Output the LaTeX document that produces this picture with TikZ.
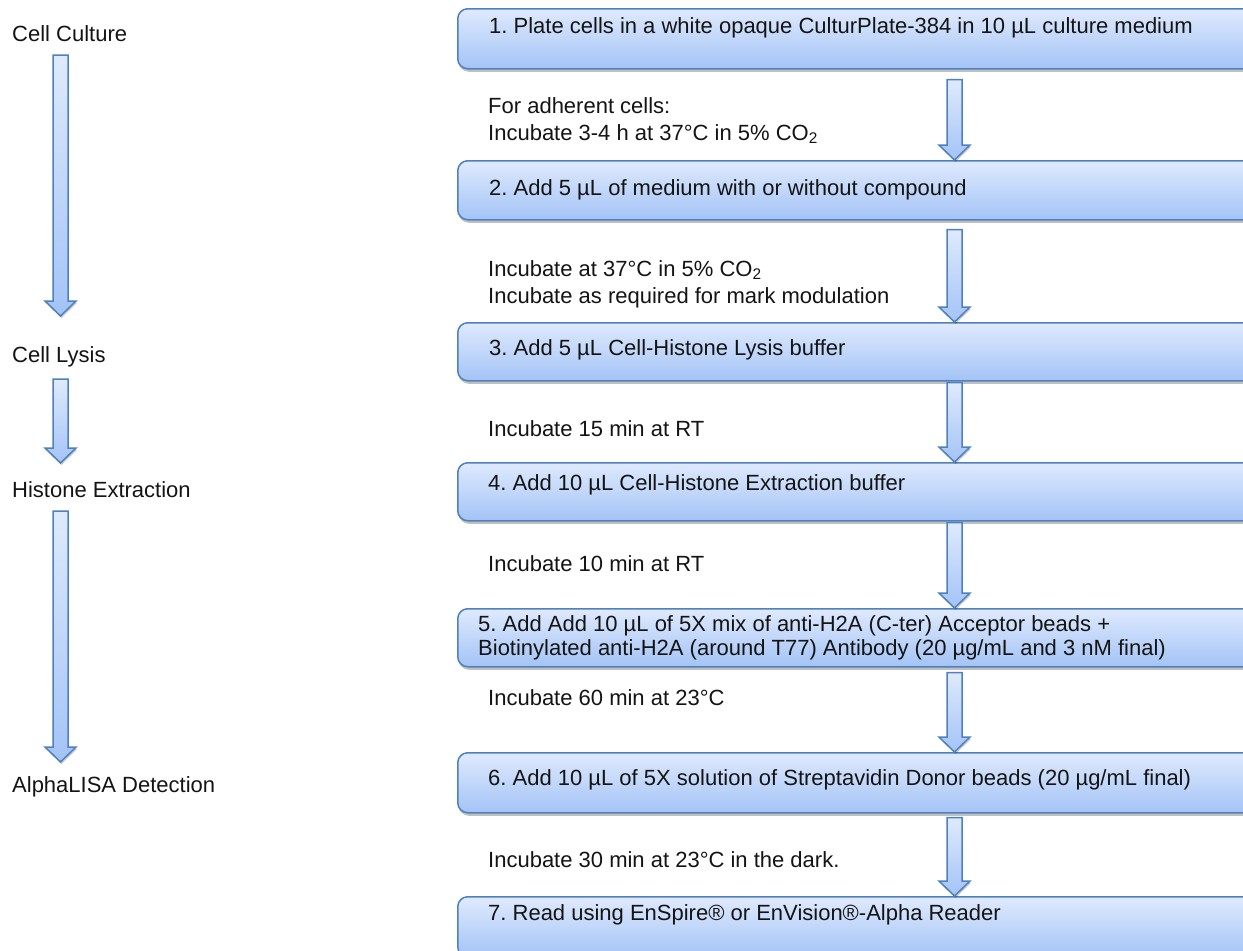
\documentclass[tikz,border=0pt]{standalone}
\usepackage{fontspec}
\setmainfont{Liberation Sans}
\usetikzlibrary{shadows,calc}
\frenchspacing
\definecolor{boxtop}{RGB}{223,234,253}
\definecolor{boxbot}{RGB}{163,195,246}
\definecolor{edgeblue}{RGB}{79,129,189}
\definecolor{ink}{RGB}{20,20,20}
\newcommand\blockarrow[2]{%
  \path[flowarrow] let \p1=(#1), \p2=(#2) in
    (\x1-7.5pt,\y1) -- (\x1+7.5pt,\y1) -- (\x1+7.5pt,\y2+15pt) -- (\x1+15.5pt,\y2+15pt)
    -- (\x1,\y2) -- (\x1-15.5pt,\y2+15pt) -- (\x1-7.5pt,\y2+15pt) -- cycle;}
\tikzset{
  stepbox/.style={draw=edgeblue, line width=1.5pt, rounded corners=10pt,
    top color=boxtop, bottom color=boxbot,
    drop shadow={shadow xshift=1pt, shadow yshift=-3pt, opacity=0.25, fill=black},
    minimum width=800pt, inner sep=0pt, anchor=north west},
  flowarrow/.style={draw=edgeblue, line width=1.5pt, line join=miter,
    top color=boxtop, bottom color=boxbot,
    drop shadow={shadow xshift=1pt, shadow yshift=-2pt, opacity=0.2, fill=black}},
  txt/.style={anchor=base west, inner sep=0pt, font=\fontsize{22pt}{27pt}\selectfont, text=ink},
}
\begin{document}
\begin{tikzpicture}[x=1pt,y=-1pt]
\useasboundingbox (0,0) rectangle (1243,951);
\clip (0,0) rectangle (1243,951);
\fill[white] (0,0) rectangle (1243,951);
% step boxes
\node[stepbox, minimum height=60pt] (b1) at (457,8) {};
\node[stepbox, minimum height=59pt] (b2) at (457,160) {};
\node[stepbox, minimum height=58pt] (b3) at (457,322) {};
\node[stepbox, minimum height=58pt] (b4) at (457,462) {};
\node[stepbox, minimum height=58pt] (b5) at (457,608) {};
\node[stepbox, minimum height=60pt] (b6) at (457,752) {};
\node[stepbox, minimum height=60pt] (b7) at (457,896) {};
% step texts
\node[txt] (t1) at (489,33) {1. Plate cells in a white opaque CulturPlate-384 in 10 µL culture medium};
\node[txt] (t2) at (489,195) {2. Add 5 µL of medium with or without compound};
\node[txt] (t3) at (489,355) {3. Add 5 µL Cell-Histone Lysis buffer};
\node[txt] (t4) at (488,490) {4. Add 10 µL Cell-Histone Extraction buffer};
\node[txt] (t5a) at (478,631) {5. Add Add 10 µL of 5X mix of anti-H2A (C-ter) Acceptor beads +};
\node[txt] (t5b) at (478,655) {Biotinylated anti-H2A (around T77) Antibody (20 µg/mL and 3 nM final)};
\node[txt] (t6) at (488,785) {6. Add 10 µL of 5X solution of Streptavidin Donor beads (20 µg/mL final)};
\node[txt] (t7) at (488,920) {7. Read using EnSpire® or EnVision®-Alpha Reader};
% incubation texts
\node[txt] (i1a) at (488,113) {For adherent cells:};
\node[txt] (i1b) at (488,140) {Incubate 3-4 h at 37°C in 5\% CO\textsubscript{2}};
\node[txt] (i2a) at (488,276) {Incubate at 37°C in 5\% CO\textsubscript{2}};
\node[txt] (i2b) at (488,303) {Incubate as required for mark modulation};
\node[txt] (i3) at (488,436) {Incubate 15 min at RT};
\node[txt] (i4) at (488,571) {Incubate 10 min at RT};
\node[txt] (i5) at (488,705) {Incubate 60 min at 23°C};
\node[txt] (i6) at (488,867) {Incubate 30 min at 23°C in the dark.};
% phase labels
\node[txt] (l1) at (12,41) {Cell Culture};
\node[txt] (l2) at (12,362) {Cell Lysis};
\node[txt] (l3) at (12,497) {Histone Extraction};
\node[txt] (l4) at (12,792) {AlphaLISA Detection};
% arrow axes
\coordinate (rx) at (954.5,0);
\coordinate (lx) at (60.5,0);
% right arrows
\blockarrow{$(b1.south -| rx)+(0,10)$}{b2.north -| rx}
\blockarrow{$(b2.south -| rx)+(0,9)$}{b3.north -| rx}
\blockarrow{$(b3.south -| rx)+(0,1)$}{b4.north -| rx}
\blockarrow{$(b4.south -| rx)+(0,1)$}{b5.north -| rx}
\blockarrow{$(b5.south -| rx)+(0,5)$}{b6.north -| rx}
\blockarrow{$(b6.south -| rx)+(0,4)$}{b7.north -| rx}
% left arrows
\blockarrow{$(l1.base -| lx)+(0,14)$}{$(l2.base -| lx)+(0,-46)$}
\blockarrow{$(l2.base -| lx)+(0,17)$}{$(l3.base -| lx)+(0,-34)$}
\blockarrow{$(l3.base -| lx)+(0,14)$}{$(l4.base -| lx)+(0,-30)$}
\end{tikzpicture}
\end{document}
